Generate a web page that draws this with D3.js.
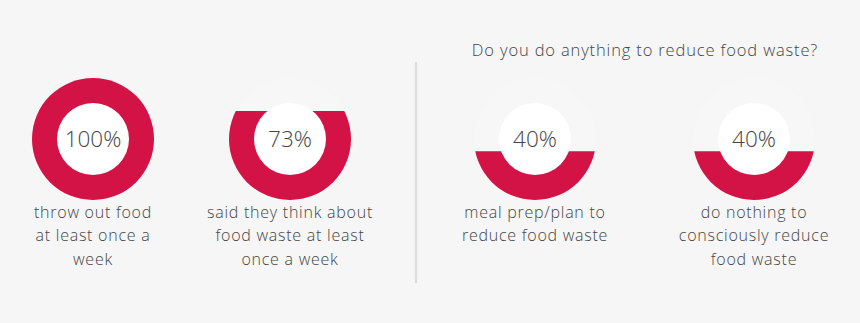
<!DOCTYPE html>
<html>
<head>
<meta charset="utf-8">
<script src="https://cdn.jsdelivr.net/npm/d3@7/dist/d3.min.js"></script>
<style>
  html, body { margin: 0; padding: 0; background: #f6f6f6; }
  svg { display: block; }
  text { font-family: "Open Sans", "Liberation Sans", Arial, sans-serif; font-weight: 300; fill: #454545; }
</style>
</head>
<body>
<svg id="chart" width="860" height="323"></svg>
<script>
// Survey results, one ring per question
const leftCategories = ["throw", "think"];
const leftValues = [100, 73];
const leftLabels = [
  ["throw out food", "at least once a", "week"],
  ["said they think about", "food waste at least", "once a week"]
];

const rightTitle = "Do you do anything to reduce food waste?";
const rightCategories = ["plan", "nothing"];
const rightValues = [40, 40];
const rightLabels = [
  ["meal prep/plan to", "reduce food waste"],
  ["do nothing to", "consciously reduce", "food waste"]
];

const W = 860, H = 323;
const cy = 139, outerR = 61, innerR = 36;
const ringColor = "#d31245";

const svg = d3.select("#chart");
svg.append("rect").attr("width", W).attr("height", H).attr("fill", "#f6f6f6");

// fill level: 0% at bottom of the ring, 100% at its top
const level = d3.scaleLinear().domain([0, 100]).range([cy + outerR, cy - outerR]);

const xLeft = d3.scalePoint().domain(leftCategories).range([93, 290]);
const xRight = d3.scalePoint().domain(rightCategories).range([535, 754]);

const defs = svg.append("defs");
let clipId = 0;

function drawRings(cats, values, labels, x) {
  cats.forEach((c, i) => {
    const cx = x(c);
    const v = values[i];
    const g = svg.append("g");
    const id = "clip" + (clipId++);
    defs.append("clipPath").attr("id", id)
      .append("rect")
      .attr("x", cx - outerR - 2)
      .attr("y", level(v))
      .attr("width", outerR * 2 + 4)
      .attr("height", level(0) - level(v) + 2);

    // faint empty ring
    g.append("circle").attr("cx", cx).attr("cy", cy).attr("r", outerR)
      .attr("fill", "#f7f7f7");
    // filled portion
    g.append("circle").attr("cx", cx).attr("cy", cy).attr("r", outerR)
      .attr("fill", ringColor).attr("clip-path", `url(#${id})`);
    // inner disc
    g.append("circle").attr("cx", cx).attr("cy", cy).attr("r", innerR)
      .attr("fill", "#ffffff");

    g.append("text").attr("x", cx).attr("y", cy + 8)
      .attr("text-anchor", "middle")
      .attr("font-size", 22.5)
      .text(v + "%");

    g.append("text").attr("text-anchor", "middle")
      .attr("font-size", 16)
      .attr("letter-spacing", 0.75)
      .selectAll("tspan").data(labels[i]).join("tspan")
      .attr("x", cx)
      .attr("y", (d, j) => 218 + j * 23.3)
      .text(d => d);
  });
}

drawRings(leftCategories, leftValues, leftLabels, xLeft);
drawRings(rightCategories, rightValues, rightLabels, xRight);

// divider between the two panels
svg.append("line").attr("x1", 416).attr("x2", 416).attr("y1", 62).attr("y2", 283)
  .attr("stroke", "#dcdcdc").attr("stroke-width", 2);

svg.append("text").attr("x", 645).attr("y", 56)
  .attr("text-anchor", "middle").attr("font-size", 16.5)
  .attr("letter-spacing", 0.85)
  .text(rightTitle);
</script>
</body>
</html>
